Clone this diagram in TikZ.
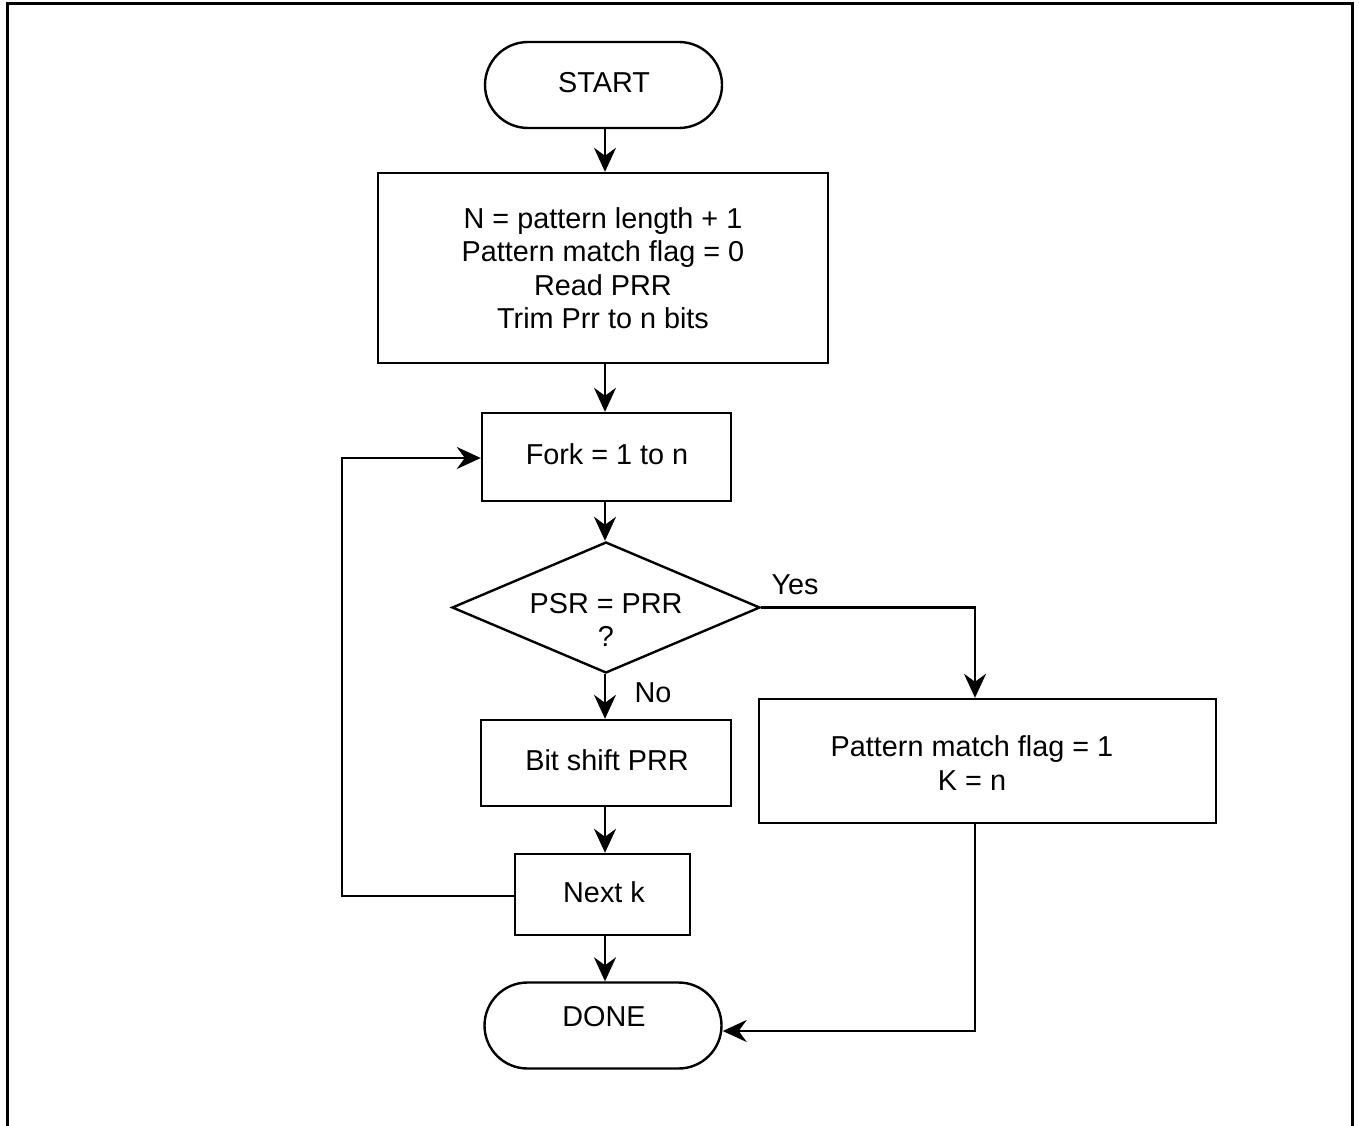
\documentclass[tikz,border=0pt]{standalone}
\usepackage{fontspec}
\setmainfont{Liberation Sans}
\usetikzlibrary{arrows.meta,shapes.geometric}
\begin{document}
\begin{tikzpicture}[x=1pt,y=-1pt,
  every node/.style={font=\fontsize{28.8}{33.5}\selectfont, align=center, inner sep=0pt},
  box/.style={draw, line width=2.4pt, rectangle},
  term/.style={draw, line width=2.4pt, rectangle, rounded corners=43pt, minimum width=237pt, minimum height=86pt},
  dec/.style={draw, line width=2.4pt, diamond, minimum width=308pt, minimum height=131pt, aspect=2.35},
  conn/.style={line width=2.6pt, -{Stealth[length=24pt,width=22pt,inset=8pt]}},
  txt/.style={}]
\useasboundingbox (0,0) rectangle (1359,1126);
\draw[line width=3pt] (7,1130) -- (7,4) -- (1352,4) -- (1352,1130);
\node[term] (start) at (603.5,85) {};
\node[txt] at (604,83) {START};
\node[box, minimum width=450pt, minimum height=190pt] (init) at (603,268) {N = pattern length + 1\\Pattern match flag = 0\\Read PRR\\Trim Prr to n bits};
\node[box, minimum width=249pt, minimum height=88pt] (fork) at (606.5,457) {};
\node[txt] at (607,454) {Fork = 1 to n};
\node[dec] (cmp) at (606,607.5) {};
\node[txt] at (606,620) {PSR = PRR\\?};
\node[box, minimum width=250pt, minimum height=86pt] (shift) at (606,763) {};
\node[txt] at (607,760) {Bit shift PRR};
\node[box, minimum width=175pt, minimum height=81pt] (next) at (602.5,894.5) {};
\node[txt] at (604,892) {Next k};
\node[term] (done) at (603,1025.5) {};
\node[txt] at (604,1017) {DONE};
\node[box, minimum width=457pt, minimum height=124pt] (match) at (987.5,761) {};
\node[txt] at (972,763) {Pattern match flag = 1\\K = n};
\node (yes) at (795,585) {Yes};
\node (no) at (653,693) {No};
\coordinate (c1) at (975,607.5);
\coordinate (c2) at (342,896);
\coordinate (c3) at (342,458);
\coordinate (c4) at (975,1031);
\draw[conn] (start.south -| 605,0) -- (init.north -| 605,0);
\draw[conn] (init.south -| 605,0) -- (fork.north -| 605,0);
\draw[conn] (fork.south -| 605,0) -- (cmp.north -| 605,0);
\draw[conn] (cmp.south -| 605,0) -- (shift.north -| 605,0);
\draw[conn] (shift.south -| 605,0) -- (next.north -| 605,0);
\draw[conn] (next.south -| 605,0) -- (done.north -| 605,0);
\draw[conn] (cmp.east) -- (c1) -- (match.north -| c1);
\draw[conn] (next.west |- c2) -- (c2) -- (c3) -- (fork.west |- c3);
\draw[conn] (match.south -| c4) -- (c4) -- (done.east |- c4);
\end{tikzpicture}
\end{document}
